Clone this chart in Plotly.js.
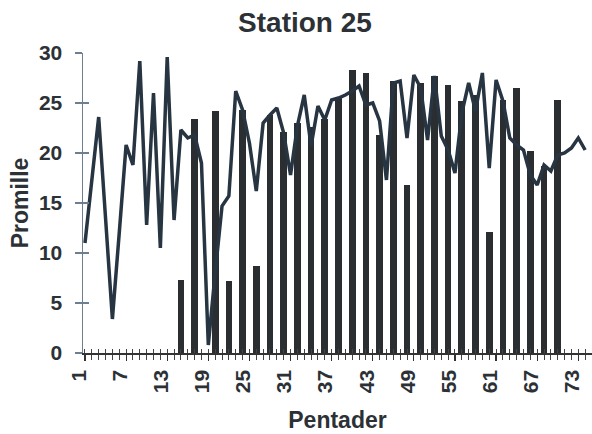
<!DOCTYPE html>
<html>
<head>
<meta charset="utf-8">
<script src="https://cdn.plot.ly/plotly-3.0.1.min.js"></script>
<style>html,body{margin:0;padding:0;background:#fff;}#chart{width:592px;height:434px;}</style>
</head>
<body>
<div id="chart"></div>
<script>
// Pentader (line series)
var pentader = [1,2,3,4,5,6,7,8,9,10,11,12,13,14,15,16,17,18,19,20,21,22,23,24,25,26,27,28,29,30,31,32,33,34,35,36,37,38,39,40,41,42,43,44,45,46,47,48,49,50,51,52,53,54,55,56,57,58,59,60,61,62,63,64,65,66,67,68,69,70,71,72,73,74];
var linjeVaerdier = [11.0,17.0,23.6,13.5,3.4,12.0,20.8,18.8,29.2,12.8,26.0,10.5,29.6,13.3,22.3,21.5,21.8,19.0,0.8,8.0,14.7,15.7,26.2,24.3,21.0,16.2,23.0,23.8,24.5,22.0,17.8,22.7,25.8,20.7,24.7,23.3,25.3,25.5,25.8,26.2,26.7,24.8,25.0,23.2,17.3,27.0,27.2,21.5,27.8,26.5,21.3,27.7,21.7,20.3,18.0,24.0,27.0,24.2,28.0,18.5,27.3,25.2,21.5,20.8,20.3,17.8,16.8,18.8,18.2,19.8,20.0,20.5,21.5,20.3];
// Bars
var soejlePentader = [15,17,20,22,24,26,28,30,32,34,36,38,40,42,44,46,48,50,52,54,56,58,60,62,64,66,68,70];
var soejleVaerdier = [7.3,23.4,24.2,7.2,24.3,8.7,23.8,22.1,23.0,22.6,23.4,25.5,28.3,28.0,21.8,27.2,16.8,27.0,27.7,26.8,25.2,25.8,12.1,25.3,26.5,20.2,18.7,25.3];
// Tick labels
var xTickVals = [1,7,13,19,25,31,37,43,49,55,61,67,73];
var yTickVals = [0,5,10,15,20,25,30];

var txt = '#2c3136';
var fam = 'Liberation Sans, Arial, sans-serif';
var xRange = [0.71, 75.0];

var traces = [
  {type:'bar', x:soejlePentader, y:soejleVaerdier, width:0.98,
   marker:{color:'#2b2e31', line:{width:0}}, hoverinfo:'skip'},
  {type:'scatter', mode:'lines', x:pentader, y:linjeVaerdier,
   line:{color:'#273441', width:3.5}, hoverinfo:'skip'}
];

var layout = {
  width:592, height:434,
  margin:{l:83, r:0, t:53, b:81},
  paper_bgcolor:'#fff', plot_bgcolor:'#fff',
  showlegend:false,
  title:{text:'Station 25', font:{family:fam, size:28, color:txt, weight:'bold'},
         x:305/592, xref:'container', xanchor:'center', y:1-22/434, yref:'container', yanchor:'middle'},
  xaxis:{range:xRange, tickmode:'array', tickvals:xTickVals, ticktext:xTickVals.map(String),
         tickangle:-90, ticks:'outside', ticklen:6, tickwidth:1.2, tickcolor:'#333',
         ticklabelshift:-6, ticklabelstandoff:1,
         minor:{dtick:1, tick0:0, ticks:'outside', ticklen:5, tickwidth:1, tickcolor:'#444', showgrid:false},
         showline:true, linecolor:'#333', linewidth:1.5, showgrid:false, zeroline:false,
         tickfont:{family:fam, size:21, color:txt, weight:'bold'},
         title:{text:'Pentader', font:{family:fam, size:23, color:txt, weight:'bold'}, standoff:19}},
  xaxis2:{overlaying:'x', anchor:'y', range:xRange, tick0:0, dtick:1, ticks:'inside', ticklen:4,
          tickwidth:1, tickcolor:'#444', showticklabels:false, showgrid:false, zeroline:false, showline:false},
  yaxis:{range:[0,30], tickmode:'array', tickvals:yTickVals, ticks:'outside', ticklen:7, tickwidth:1.2,
         ticklabelstandoff:8,
         tickcolor:'#6b7f90', showline:true, linecolor:'#6b7f90', linewidth:1.5, showgrid:false, zeroline:false,
         tickfont:{family:fam, size:21, color:txt, weight:'bold'},
         title:{text:'Promille', font:{family:fam, size:23, color:txt, weight:'bold'}, standoff:4}},
  yaxis2:{overlaying:'y', anchor:'x', range:[0,30], tickmode:'array', tickvals:yTickVals, ticks:'inside', ticklen:6,
          tickwidth:1.2, tickcolor:'#6b7f90', showticklabels:false, showgrid:false, zeroline:false, showline:false},
  bargap:0
};
// helper traces so the overlay axes render
traces.push({type:'scatter', x:[], y:[], xaxis:'x2', yaxis:'y', hoverinfo:'skip'});
traces.push({type:'scatter', x:[], y:[], xaxis:'x', yaxis:'y2', hoverinfo:'skip'});

Plotly.newPlot('chart', traces, layout, {staticPlot:true, displayModeBar:false});
</script>
</body>
</html>
